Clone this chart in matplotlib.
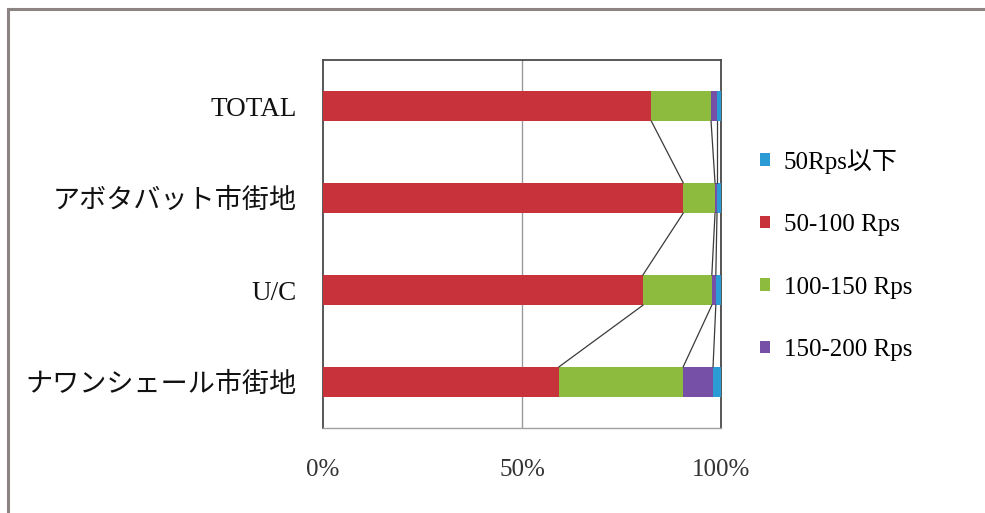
import matplotlib
matplotlib.use("Agg")
import matplotlib.pyplot as plt
from matplotlib.patches import Patch
from matplotlib.lines import Line2D
import numpy as np

# Categories from top to bottom
categories = ["TOTAL", "アボタバット市街地", "U/C", "ナワンシェール市街地"]

# Share of each fare band (%), per category
below_50 = [1.0, 1.0, 1.3, 2.0]
rps_50_100 = [82.5, 90.5, 80.4, 59.3]
rps_100_150 = [15.0, 8.0, 17.3, 31.2]
rps_150_200 = [1.5, 0.5, 1.0, 7.5]

legend_labels = ["50Rps以下", "50-100 Rps", "100-150 Rps", "150-200 Rps"]
tick_values = [0, 50, 100]
tick_labels = ["0%", "50%", "100%"]

c_blue = "#2b9bd6"
c_red = "#c8333b"
c_green = "#8dbb3e"
c_purple = "#7650a6"

fonts = ["Liberation Serif", "Noto Sans CJK JP", "DejaVu Sans"]
plt.rcParams["font.family"] = fonts

fig = plt.figure(figsize=(9.85, 5.13), dpi=100)
fig.patch.set_facecolor("white")

# Outer frame (top and left edges)
fig.add_artist(Line2D([8 / 985, 1.0], [1 - 9 / 513, 1 - 9 / 513],
                      transform=fig.transFigure, color="#8c8482", lw=2.2))
fig.add_artist(Line2D([8 / 985, 8 / 985], [0.0, 1 - 9 / 513],
                      transform=fig.transFigure, color="#8c8482", lw=2.2))

ax = fig.add_axes([323 / 985, 1 - 428 / 513, 398 / 985, 368 / 513])

n = len(categories)
y = np.arange(n)[::-1].astype(float)
h = 0.33

# Stack order inside each bar: 50-100, 100-150, 150-200, below 50
stack = [(rps_50_100, c_red), (rps_100_150, c_green),
         (rps_150_200, c_purple), (below_50, c_blue)]
left = np.zeros(n)
bounds = []
for vals, col in stack:
    v = np.array(vals, dtype=float)
    ax.barh(y, v, left=left, height=h, color=col, edgecolor="none", zorder=3)
    left = left + v
    bounds.append(left.copy())

# Series lines joining segment ends between neighbouring bars
for b in bounds:
    for i in range(n - 1):
        ax.plot([b[i], b[i + 1]], [y[i] - h / 2, y[i + 1] + h / 2],
                color="#3a3a3a", lw=0.9, zorder=4)

ax.set_xlim(0, 100)
ax.set_ylim(-0.5, n - 0.5)
ax.axvline(50, color="#9a9a9a", lw=1.0, zorder=1)

ax.set_yticks(y)
ax.set_yticklabels(categories, fontsize=19.5, color="#111111")
ax.set_xticks(tick_values)
ax.set_xticklabels(tick_labels, fontsize=18, color="#333333")
ax.tick_params(axis="y", length=0, pad=19)
ax.tick_params(axis="x", length=0, pad=22)

for side in ["top", "left", "right"]:
    ax.spines[side].set_color("#4a4a4a")
    ax.spines[side].set_linewidth(1.3)
ax.spines["bottom"].set_color("#a0a0a0")
ax.spines["bottom"].set_linewidth(1.0)

handles = [Patch(facecolor=c_blue), Patch(facecolor=c_red),
           Patch(facecolor=c_green), Patch(facecolor=c_purple)]
fig.legend(handles, legend_labels, loc="center left",
           bbox_to_anchor=(760 / 985, 1 - 255 / 513),
           frameon=False, fontsize=18, labelspacing=1.62,
           handlelength=0.4, handleheight=0.4, handletextpad=0.55,
           borderpad=0, borderaxespad=0)

fig.savefig("out.png", dpi=100, facecolor="white")
